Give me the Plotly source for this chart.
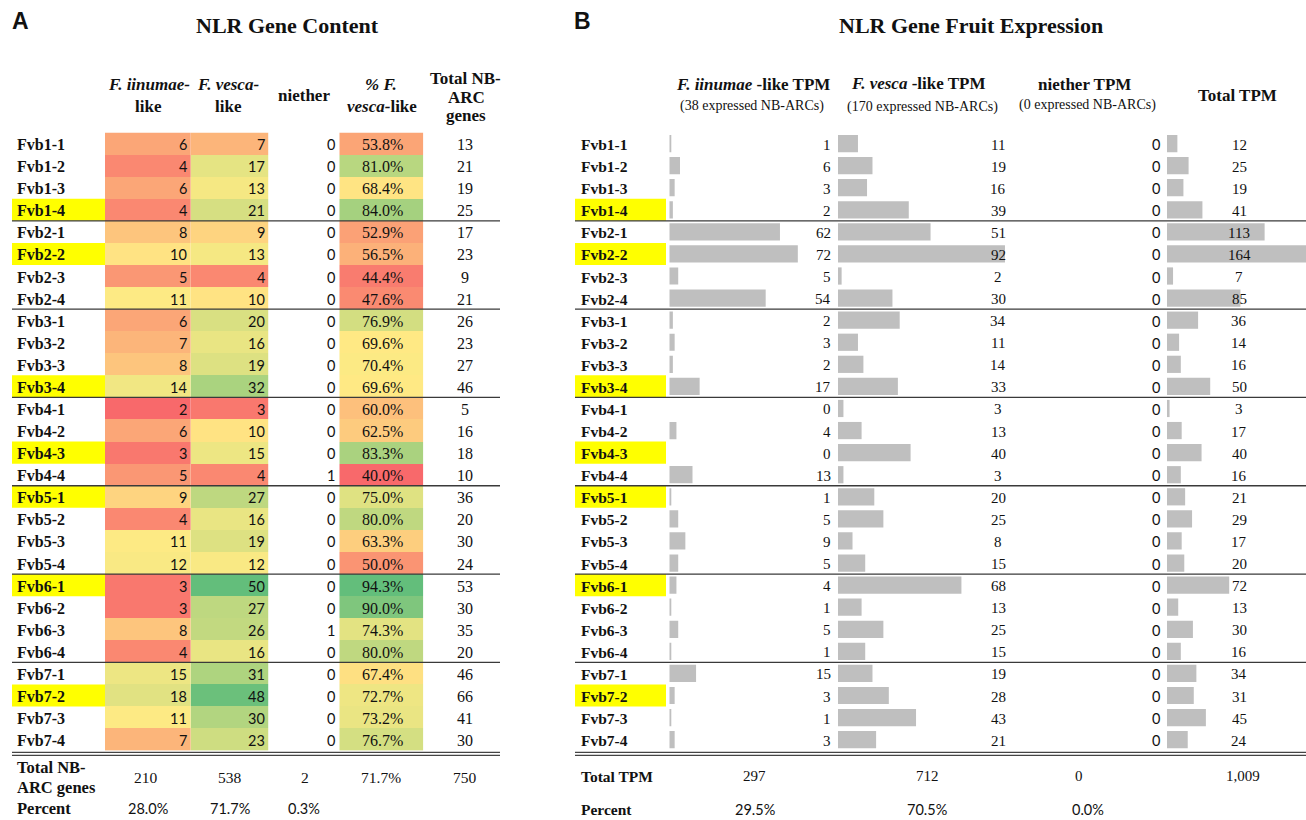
import numpy as np
import plotly.graph_objects as go

W, H = 1306, 820

# ---------------------------------------------------------------- data
rows = ["Fvb1-1", "Fvb1-2", "Fvb1-3", "Fvb1-4",
        "Fvb2-1", "Fvb2-2", "Fvb2-3", "Fvb2-4",
        "Fvb3-1", "Fvb3-2", "Fvb3-3", "Fvb3-4",
        "Fvb4-1", "Fvb4-2", "Fvb4-3", "Fvb4-4",
        "Fvb5-1", "Fvb5-2", "Fvb5-3", "Fvb5-4",
        "Fvb6-1", "Fvb6-2", "Fvb6-3", "Fvb6-4",
        "Fvb7-1", "Fvb7-2", "Fvb7-3", "Fvb7-4"]
highlighted = ["Fvb1-4", "Fvb2-2", "Fvb3-4", "Fvb4-3", "Fvb5-1", "Fvb6-1", "Fvb7-2"]

# NLR gene content
iinumae_like = [6, 4, 6, 4, 8, 10, 5, 11, 6, 7, 8, 14, 2, 6, 3, 5,
                9, 4, 11, 12, 3, 3, 8, 4, 15, 18, 11, 7]
vesca_like = [7, 17, 13, 21, 9, 13, 4, 10, 20, 16, 19, 32, 3, 10, 15, 4,
              27, 16, 19, 12, 50, 27, 26, 16, 31, 48, 30, 23]
neither = [0, 0, 0, 0, 0, 0, 0, 0, 0, 0, 0, 0, 0, 0, 0, 1,
           0, 0, 0, 0, 0, 0, 1, 0, 0, 0, 0, 0]
pct_vesca = [53.8, 81.0, 68.4, 84.0, 52.9, 56.5, 44.4, 47.6, 76.9, 69.6, 70.4, 69.6,
             60.0, 62.5, 83.3, 40.0, 75.0, 80.0, 63.3, 50.0, 94.3, 90.0, 74.3, 80.0,
             67.4, 72.7, 73.2, 76.7]
total_nbarc = [13, 21, 19, 25, 17, 23, 9, 21, 26, 23, 27, 46, 5, 16, 18, 10,
               36, 20, 30, 24, 53, 30, 35, 20, 46, 66, 41, 30]
content_totals = ["210", "538", "2", "71.7%", "750"]
content_percent = ["28.0%", "71.7%", "0.3%"]

# NLR gene fruit expression (TPM)
tpm_iinumae = [1, 6, 3, 2, 62, 72, 5, 54, 2, 3, 2, 17, 0, 4, 0, 13,
               1, 5, 9, 5, 4, 1, 5, 1, 15, 3, 1, 3]
tpm_vesca = [11, 19, 16, 39, 51, 92, 2, 30, 34, 11, 14, 33, 3, 13, 40, 3,
             20, 25, 8, 15, 68, 13, 25, 15, 19, 28, 43, 21]
tpm_neither = [0, 0, 0, 0, 0, 0, 0, 0, 0, 0, 0, 0, 0, 0, 0, 0,
               0, 0, 0, 0, 0, 0, 0, 0, 0, 0, 0, 0]
tpm_total = [12, 25, 19, 41, 113, 164, 7, 85, 36, 14, 16, 50, 3, 17, 40, 16,
             21, 29, 17, 20, 72, 13, 30, 16, 34, 31, 45, 24]
tpm_totals = ["297", "712", "0", "1,009"]
tpm_percent = ["29.5%", "70.5%", "0.0%"]

# ---------------------------------------------------------------- styling
SERIF = "Liberation Serif"
NUM = "Lato"
LETTER = "Liberation Sans"
INK = "#111111"
BAR = "#BFBFBF"
HILITE = "#FFFF00"
RED, YELLOW, GREEN = "#F8696B", "#FFEB84", "#63BE7B"


def xp(px):
    return px / W


def yp(py):
    return 1 - py / H


def three_colour_scale(values):
    """Red-yellow-green scale with yellow at the 50th percentile."""
    lo, hi = min(values), max(values)
    mid = (np.percentile(values, 50) - lo) / (hi - lo)
    return [[0, RED], [mid, YELLOW], [1, GREEN]], lo, hi


fig = go.Figure()

# shared row axis
fig.update_layout(
    yaxis=dict(type="category", categoryorder="array", categoryarray=rows,
               range=[len(rows) - 0.5, -0.5], domain=[yp(750.7), yp(132.5)],
               visible=False, fixedrange=True, anchor="x")
)

axes = {}


def add_xaxis(name, left, right, rng):
    idx = len(axes) + 1
    key = "xaxis" if idx == 1 else f"xaxis{idx}"
    ref = "x" if idx == 1 else f"x{idx}"
    fig.update_layout({key: dict(domain=[xp(left), xp(right)], range=rng, visible=False,
                                 showgrid=False, zeroline=False, anchor="y", fixedrange=True)})
    axes[name] = ref
    return ref


# ------------------------------------------------ panel A: gene content
ax = add_xaxis("a_hl", 12, 105, [0, 1])
fig.add_trace(go.Bar(x=[1] * len(highlighted), y=highlighted, orientation="h", width=1.0,
                     marker=dict(color=HILITE, line_width=0), xaxis=ax, yaxis="y",
                     hoverinfo="skip", showlegend=False))

count_scale, cmin, cmax = three_colour_scale(iinumae_like + vesca_like)
for name, vals, left, right in [("a_iin", iinumae_like, 105, 190.7),
                                ("a_ves", vesca_like, 190.7, 268.3)]:
    ax = add_xaxis(name, left, right, [-0.5, 0.5])
    fig.add_trace(go.Heatmap(z=[[v] for v in vals], x=[0], y=rows, colorscale=count_scale,
                             zmin=cmin, zmax=cmax, showscale=False, xaxis=ax, yaxis="y",
                             hoverinfo="skip"))

pct_scale, pmin, pmax = three_colour_scale(pct_vesca)
ax = add_xaxis("a_pct", 339.3, 423.3, [-0.5, 0.5])
fig.add_trace(go.Heatmap(z=[[v] for v in pct_vesca], x=[0], y=rows, colorscale=pct_scale,
                         zmin=pmin, zmax=pmax, showscale=False, xaxis=ax, yaxis="y",
                         hoverinfo="skip"))

# ------------------------------------------------ panel B: fruit expression
ax = add_xaxis("b_hl", 575, 666, [0, 1])
fig.add_trace(go.Bar(x=[1] * len(highlighted), y=highlighted, orientation="h", width=1.0,
                     marker=dict(color=HILITE, line_width=0), xaxis=ax, yaxis="y",
                     hoverinfo="skip", showlegend=False))

for name, vals, left, right, px_per_unit in [
        ("b_iin", tpm_iinumae, 669.3, 830, 1.785),
        ("b_ves", tpm_vesca, 838, 1010, 1.815),
        ("b_tot", tpm_total, 1167, 1306, 0.864)]:
    ax = add_xaxis(name, left, right, [0, (right - left) / px_per_unit])
    fig.add_trace(go.Bar(x=vals, y=rows, orientation="h", width=0.78,
                         marker=dict(color=BAR, line_width=0), xaxis=ax, yaxis="y",
                         hoverinfo="skip", showlegend=False))

# ------------------------------------------------ text
ann = []


def txt(text, x, y, size=16, family=SERIF, xanchor="center", yref="paper", yshift=0, color=INK):
    ann.append(dict(text=text, x=xp(x), y=y if yref == "y" else yp(y), xref="paper", yref=yref,
                    xanchor=xanchor, yanchor="middle", showarrow=False, yshift=yshift,
                    font=dict(family=family, size=size, color=color)))


# panel letters and titles
txt("<b>A</b>", 10, 21, size=23, family=LETTER, xanchor="left")
txt("<b>B</b>", 572, 21, size=23, family=LETTER, xanchor="left")
txt("<b>NLR Gene Content</b>", 287.5, 25, size=22)
txt("<b>NLR Gene Fruit Expression</b>", 971, 25, size=22)

# panel A column headers
HA = 17
txt("<b><i>F. iinumae-</i></b>", 149, 85, size=HA)
txt("<b>like</b>", 148, 106, size=HA)
txt("<b><i>F. vesca-</i></b>", 228, 85, size=HA)
txt("<b>like</b>", 228, 106, size=HA)
txt("<b>niether</b>", 304, 95, size=HA)
txt("<b><i>% F.</i></b>", 381, 85, size=HA)
txt("<b><i>vesca-</i>like</b>", 382, 106, size=HA)
txt("<b>Total NB-</b>", 465, 79, size=HA)
txt("<b>ARC</b>", 466, 97, size=HA)
txt("<b>genes</b>", 466, 115, size=HA)

# panel B column headers
HB = 17
txt("<b><i>F. iinumae</i> -like TPM</b>", 753, 85, size=HB)
txt("(38 expressed NB-ARCs)", 752, 106, size=14)
txt("<b><i>F. vesca</i> -like TPM</b>", 918, 84, size=HB)
txt("(170 expressed NB-ARCs)", 922, 107, size=14)
txt("<b>niether TPM</b>", 1084, 85, size=HB)
txt("(0 expressed NB-ARCs)", 1087, 105, size=14)
txt("<b>Total TPM</b>", 1237, 95, size=HB)

# row cells
for i, r in enumerate(rows):
    txt(f"<b>{r}</b>", 15, r, yref="y", xanchor="left", yshift=-1)
    txt(str(iinumae_like[i]), 189, r, size=14.5, family=NUM, yref="y", xanchor="right", yshift=-1)
    txt(str(vesca_like[i]), 266.5, r, size=14.5, family=NUM, yref="y", xanchor="right", yshift=-1)
    txt(str(neither[i]), 337, r, size=14.5, family=NUM, yref="y", xanchor="right", yshift=-1)
    txt(f"{pct_vesca[i]:.1f}%", 382, r, yref="y", yshift=-1)
    txt(str(total_nbarc[i]), 465, r, yref="y", yshift=-1)

    txt(f"<b>{r}</b>", 579, r, size=15.5, yref="y", xanchor="left", yshift=-1)
    txt(str(tpm_iinumae[i]), 833, r, size=15, yref="y", xanchor="right", yshift=-1)
    txt(str(tpm_vesca[i]), 998, r, size=15, yref="y", yshift=-1)
    txt(str(tpm_neither[i]), 1162, r, size=14.5, family=NUM, yref="y", xanchor="right", yshift=-1)
    txt(str(tpm_total[i]), 1239, r, size=15, yref="y", yshift=-1)

# summary rows, panel A
txt("<b>Total NB-</b>", 15, 767, size=16.5, xanchor="left")
txt("<b>ARC genes</b>", 15, 787, size=16.5, xanchor="left")
for x, v in zip([146, 230, 305, 381, 465], content_totals):
    txt(v, x, 777, size=15.5)
txt("<b>Percent</b>", 15, 808, size=16.5, xanchor="left")
for x, v in zip([148, 230, 304], content_percent):
    txt(v, x, 808, size=14.5, family=NUM)

# summary rows, panel B
txt("<b>Total TPM</b>", 579, 776, size=15.5, xanchor="left")
for x, v in zip([754, 927, 1079, 1243], tpm_totals):
    txt(v, x, 776, size=15)
txt("<b>Percent</b>", 579, 809, size=15.5, xanchor="left")
for x, v in zip([755, 927, 1088], tpm_percent):
    txt(v, x, 809, size=14.5, family=NUM)

# ------------------------------------------------ table rules
shapes = []
groups = [r.split("-")[0] for r in rows]
for i in range(1, len(rows)):
    if groups[i] != groups[i - 1]:
        for x0, x1 in [(12, 500), (575, 1306)]:
            shapes.append(dict(type="line", xref="paper", yref="y", x0=xp(x0), x1=xp(x1),
                               y0=i - 0.5, y1=i - 0.5, line=dict(color="#3a3a3a", width=1.3)))
for py in (752.3, 755.3):
    for x0, x1 in [(12, 500), (575, 1306)]:
        shapes.append(dict(type="line", xref="paper", yref="paper", x0=xp(x0), x1=xp(x1),
                           y0=yp(py), y1=yp(py), line=dict(color="#444444", width=1.3)))

fig.update_layout(
    width=W, height=H, margin=dict(l=0, r=0, t=0, b=0),
    paper_bgcolor="white", plot_bgcolor="rgba(0,0,0,0)",
    annotations=ann, shapes=shapes, showlegend=False, barmode="overlay",
)

fig.write_html("out.html", config={"displayModeBar": False})
